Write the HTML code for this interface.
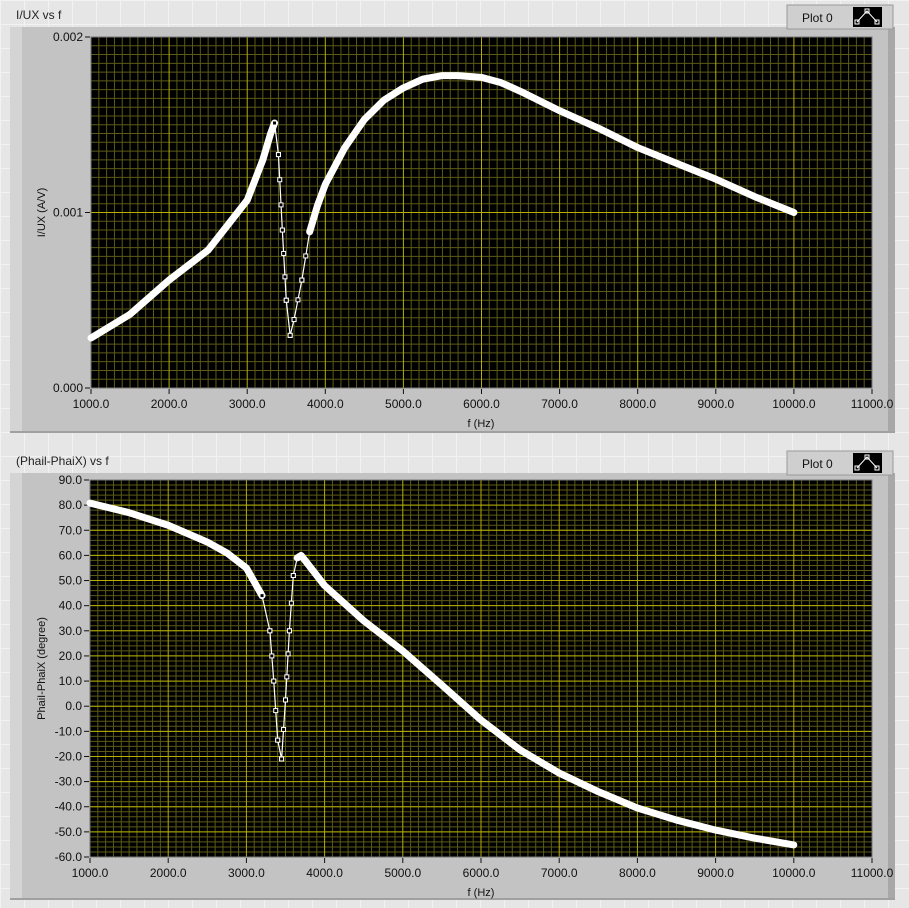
<!DOCTYPE html>
<html><head><meta charset="utf-8"><style>
body{margin:0;width:909px;height:908px;overflow:hidden;font-family:"Liberation Sans",sans-serif;
background-color:#e6e6e6;background-image:linear-gradient(#f2f2f2 1px,transparent 1px),linear-gradient(90deg,#f2f2f2 1px,transparent 1px);background-size:24px 24px;}
svg{position:absolute;left:0;top:0}
</style></head><body>
<svg id="s" width="909" height="908" font-family="Liberation Sans, sans-serif" font-size="12"></svg>
<script>
const topF=[1000,1500,2000,2500,3000,3200,3300,3350,3400,3450,3500,3550,3600,3700,3800,3900,4000,4250,4500,4750,5000,5250,5500,5700,6000,6250,6500,7000,7500,8000,8500,9000,9500,10000];
const topV=[0.000285,0.00042,0.000615,0.000786,0.00107,0.0013,0.00145,0.00151,0.00133,0.0009,0.0005,0.0003,0.00039,0.000615,0.00089,0.00104,0.00116,0.00137,0.00153,0.00164,0.00171,0.00176,0.00178,0.00178,0.00177,0.00174,0.00169,0.00158,0.00148,0.00137,0.00128,0.00119,0.00109,0.001];
const botF=[1000,1500,2000,2500,2750,3000,3200,3300,3350,3400,3450,3500,3550,3600,3650,3700,3800,4000,4500,5000,5500,6000,6500,7000,7500,8000,8500,9000,9500,10000];
const botV=[80.8,77,72,65.3,61,55,44,30,10,-13.5,-21,2.5,30,52,59,60,56,48,34,22,8.4,-5.5,-17.4,-26.6,-34,-40.5,-45.3,-49.3,-52.5,-55.2];
const xTicks=[1000,2000,3000,4000,5000,6000,7000,8000,9000,10000,11000];
const topTicks=[0,0.001,0.002];
const botTicks=[-60,-50,-40,-30,-20,-10,0,10,20,30,40,50,60,70,80,90];
const NS="http://www.w3.org/2000/svg";
const s=document.getElementById('s');
function el(t,a,p){const e=document.createElementNS(NS,t);for(const k in a)e.setAttribute(k,a[k]);(p||s).appendChild(e);return e;}
function panel(o){
 const g=el('g',{});
 
 
 el('rect',{x:10,y:o.py,width:885,height:o.ph,fill:'#c3c3c3'},g);
 el('rect',{x:10,y:o.py,width:12,height:o.ph,fill:'#d4d4d4'},g);
 el('rect',{x:888,y:o.py,width:7,height:o.ph,fill:'#a8a8a8'},g);
 el('rect',{x:10,y:o.py+o.ph-2,width:885,height:2,fill:'#a0a0a0'},g);
 const t=el('text',{x:16,y:o.py-8,fill:'#222','font-size':12},g);t.textContent=o.title;
 
 
 const lg=el('g',{},g);
 
 
 el('rect',{x:787,y:o.py-22,width:106,height:24,fill:'#cfcfcf',stroke:'#9a9a9a'},lg);
 const lt=el('text',{x:802,y:o.py-5,fill:'#111','font-size':12},lg);lt.textContent='Plot 0';
 el('rect',{x:853,y:o.py-20,width:29,height:20,fill:'#000'},lg);
 el('polyline',{points:`${857},${o.py-5} ${867},${o.py-16} ${877},${o.py-5}`,fill:'none',stroke:'#fff','stroke-width':1},lg);
 el('rect',{x:855,y:o.py-7,width:4,height:4,fill:'none',stroke:'#fff'},lg);
 el('rect',{x:865,y:o.py-18,width:4,height:4,fill:'none',stroke:'#fff'},lg);
 el('rect',{x:875,y:o.py-7,width:4,height:4,fill:'none',stroke:'#fff'},lg);
 const X=f=>o.x0+(f-1000)/10000*(o.x1-o.x0);
 const Y=v=>o.y1-(v-o.vmin)/(o.vmax-o.vmin)*(o.y1-o.y0);
 const pa=el('g',{},g);
 
 
 el('rect',{x:o.x0,y:o.y0,width:o.x1-o.x0,height:o.y1-o.y0,fill:'#000'},pa);
 for(let f=1000;f<=11000;f+=100){if(f%1000)el('line',{x1:X(f),x2:X(f),y1:o.y0,y2:o.y1,stroke:'#5c5a16','stroke-width':1},pa);}
 for(let v=o.vmin;v<=o.vmax+1e-12;v+=o.minor){el('line',{x1:o.x0,x2:o.x1,y1:Y(v),y2:Y(v),stroke:'#5c5a16','stroke-width':1},pa);}
 o.ticks.forEach(v=>{el('line',{x1:o.x0,x2:o.x1,y1:Y(v),y2:Y(v),stroke:'#b5b000','stroke-width':1},pa);
  el('line',{x1:o.x0-6,x2:o.x0-1,y1:Y(v),y2:Y(v),stroke:'#111'},g);
  const tt=el('text',{x:o.x0-8,y:Y(v)+4,'text-anchor':'end',fill:'#111'},g);tt.textContent=o.fmt(v);
  
  });
 xTicks.forEach(f=>{el('line',{x1:X(f),x2:X(f),y1:o.y0,y2:o.y1,stroke:'#b5b000'},pa);
  el('line',{x1:X(f),x2:X(f),y1:o.y1+1,y2:o.y1+6,stroke:'#111'},g);
  const tt=el('text',{x:X(f),y:o.y1+20,'text-anchor':'middle',fill:'#111'},g);tt.textContent=f.toFixed(1);
  
  });
 el('rect',{x:o.x0,y:o.y0,width:o.x1-o.x0,height:o.y1-o.y0,fill:'none',stroke:'#777'},pa);
 const xt=el('text',{x:481,y:o.y1+39,'text-anchor':'middle',fill:'#111','font-size':11},g);xt.textContent='f (Hz)';
 
 
 const yc=(o.y0+o.y1)/2;
 const yt=el('text',{x:45,y:yc,'text-anchor':'middle',fill:'#111','font-size':11,transform:`rotate(-90 45 ${yc})`},g);yt.textContent=o.ytitle;
 
 
 const ser=el('g',{},g);
 
 
 const P=o.F.map((f,i)=>[X(f),Y(o.V[i])]);
 let run=[];
 const flush=()=>{if(run.length>1)el('polyline',{points:run.map(p=>p.join(',')).join(' '),fill:'none',stroke:'#fff','stroke-width':7,'stroke-linejoin':'round','stroke-linecap':'round'},ser);run=[];};
 for(let i=1;i<P.length;i++){
  const a=P[i-1],b=P[i];
  const steep=Math.abs(b[1]-a[1])>4*Math.abs(b[0]-a[0]);
  if(!steep){if(!run.length)run.push(a);run.push(b);}
  else{flush();
   el('line',{x1:a[0],y1:a[1],x2:b[0],y2:b[1],stroke:'#fff','stroke-width':1.2},ser);
   const d=Math.hypot(b[0]-a[0],b[1]-a[1]);const n=Math.max(1,Math.round(d/25));
   for(let k=0;k<=n;k++){const px=a[0]+(b[0]-a[0])*k/n,py=a[1]+(b[1]-a[1])*k/n;
    el('rect',{x:px-2,y:py-2,width:4,height:4,fill:'#000',stroke:'#fff','stroke-width':1},ser);}}
 }
 flush();
}
panel({name:'iux-chart',title:'I/UX vs f',py:27,ph:406,x0:91,x1:872,y0:37,y1:388,vmin:0,vmax:0.002,minor:0.00005,ticks:topTicks,fmt:v=>v.toFixed(3),ytitle:'I/UX (A/V)',F:topF,V:topV});
panel({name:'phase-chart',title:'(Phail-PhaiX) vs f',py:473,ph:427,x0:90,x1:872,y0:480,y1:857,vmin:-60,vmax:90,minor:2,ticks:botTicks,fmt:v=>v.toFixed(1),ytitle:'PhaiI-PhaiX (degree)',F:botF,V:botV});
</script>
</body></html>
